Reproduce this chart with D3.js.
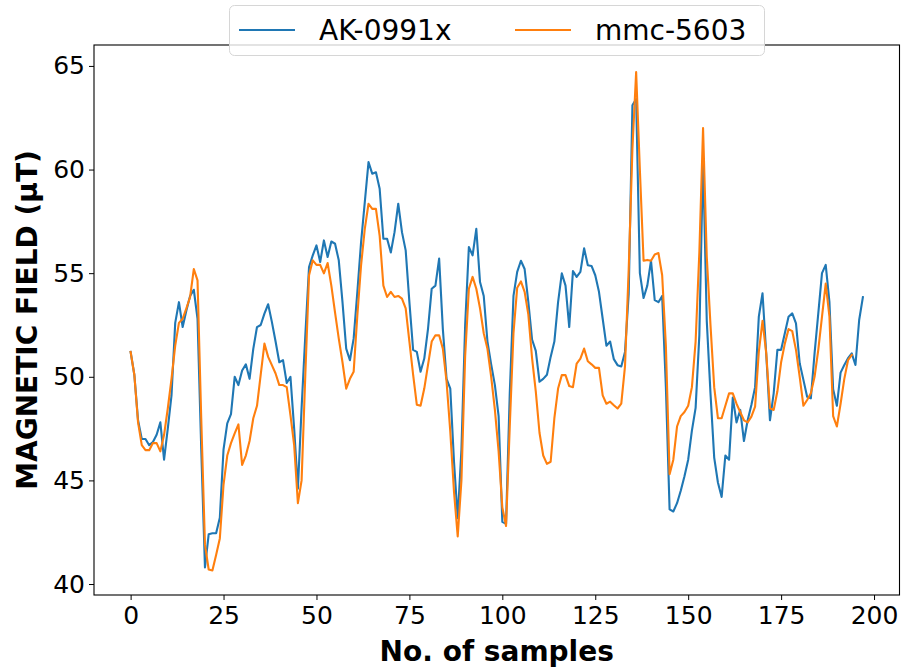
<!DOCTYPE html>
<html>
<head>
<meta charset="utf-8">
<script src="https://cdn.jsdelivr.net/npm/d3@7"></script>
<style>
  body { margin: 0; background: #ffffff; }
  svg { display: block; }
</style>
</head>
<body>
<svg id="chart" width="904" height="671"></svg>
<script>
const seriesNames = ["AK-0991x", "mmc-5603"];
const seriesColors = ["#1f77b4", "#ff7f0e"];

const ak0991x = [
  51.2, 50.1, 47.9, 47.0, 47.0, 46.7, 46.85, 47.2, 47.8, 46.0,
  47.5, 49.1, 52.6, 53.6, 52.4, 53.2, 53.9, 54.2, 52.8, 46.5,
  40.8, 42.4, 42.45, 42.45, 43.2, 46.5, 47.75, 48.2, 50.0, 49.6,
  50.3, 50.6, 49.9, 51.35, 52.4, 52.5, 53.05, 53.5, 52.65, 51.7,
  50.7, 50.8, 49.7, 50.0, 47.5, 44.6, 48.5, 52.0, 55.3, 55.86,
  56.34, 55.54, 56.58, 55.78, 56.53, 56.42, 55.62, 53.6, 51.36, 50.8,
  51.84, 54.1, 56.5, 58.43, 60.36, 59.8, 59.87, 59.07, 56.66, 56.66,
  56.0, 56.98, 58.35, 56.98, 56.1, 53.6, 51.3, 51.2, 50.24, 50.88,
  52.3, 54.25, 54.4, 55.7, 52.3, 49.9, 49.43, 45.9, 43.17, 46.5,
  52.5, 56.26, 55.86, 57.14, 54.57, 53.9, 51.7, 50.6, 49.6, 48.1,
  43.0, 42.9, 49.2, 53.9, 55.06, 55.6, 55.2, 53.6, 51.8, 51.25,
  49.76, 49.9, 50.1, 50.96, 51.7, 53.6, 54.99, 54.4, 52.4, 55.1,
  54.82, 55.06, 56.2, 55.38, 55.35, 54.9, 54.1, 52.8, 51.5, 51.7,
  50.85, 50.56, 50.5, 51.2, 54.0, 63.1, 63.4, 55.0, 53.8, 54.4,
  55.6, 53.7, 53.6, 53.9, 49.5, 43.6, 43.5, 43.9, 44.5, 45.2,
  46.0, 47.4, 48.5, 52.0, 60.5, 52.7, 49.2, 46.1, 44.9, 44.2,
  46.2, 46.0, 49.0, 47.8, 48.4, 46.9, 47.9, 48.64, 49.5, 52.9,
  54.03, 51.1, 47.9, 49.2, 51.3, 51.3, 52.1, 52.9, 53.06, 52.58,
  50.65, 49.85, 49.04, 48.96, 51.13, 53.06, 55.0, 55.4, 53.6, 49.4,
  48.6, 50.2, 50.57, 50.9, 51.13, 50.57, 52.74, 53.84
];

const mmc5603 = [
  51.2, 50.1, 47.8, 46.7, 46.46, 46.46, 46.8, 46.8, 46.4, 47.2,
  48.47, 49.9, 51.5, 52.6, 52.8, 53.3, 53.85, 55.2, 54.65, 48.0,
  41.9, 40.7, 40.65, 41.4, 42.2, 44.8, 46.2, 46.8, 47.27, 47.7,
  45.75, 46.2, 46.9, 48.0, 48.6, 50.1, 51.6, 50.96, 50.56, 50.16,
  49.6, 49.6, 49.5, 48.15, 46.7, 43.9, 45.0, 50.1, 54.9, 55.62,
  55.4, 55.4, 54.99, 55.49, 54.4, 53.1, 51.84, 50.7, 49.43, 49.9,
  50.24, 52.97, 55.38, 57.14, 58.35, 58.1, 58.1, 56.8, 54.4, 53.85,
  54.1, 53.85, 53.9, 53.77, 53.3, 51.7, 50.1, 48.65, 48.6, 49.43,
  50.56, 51.7, 52.0, 52.0, 51.36, 49.76, 47.35, 44.45, 42.3, 45.0,
  51.0, 54.25, 54.82, 54.25, 53.3, 52.1, 51.35, 50.0, 48.4, 46.4,
  43.7, 42.8, 47.6, 52.1, 54.3, 54.6, 54.1, 53.0, 50.9, 49.3,
  47.3, 46.2, 45.8, 45.9, 48.0, 49.43, 50.08, 50.08, 49.55, 49.5,
  50.64, 50.88, 51.36, 50.75, 50.6, 50.43, 50.43, 49.1, 48.7, 48.8,
  48.63, 48.47, 48.7, 50.5, 55.2, 61.0, 64.7, 60.0, 55.6, 55.64,
  55.6, 55.9, 55.97, 54.9, 51.5, 45.3, 46.0, 47.6, 48.1, 48.3,
  48.6, 49.5, 51.7, 56.0, 62.0, 55.8, 52.5, 49.5, 48.0, 48.0,
  48.6, 49.2, 49.2, 48.7, 48.3, 47.9, 47.8, 48.08, 48.56, 51.2,
  52.7, 51.13, 48.48, 48.4, 49.3, 50.7, 51.6, 52.3, 52.2, 51.3,
  50.0, 48.6, 48.88, 49.2, 50.0, 51.3, 52.9, 54.5, 52.9, 48.1,
  47.6, 48.7, 49.9, 50.8, 51.05
];

const xTickValues = [0, 25, 50, 75, 100, 125, 150, 175, 200];
const yTickValues = [40, 45, 50, 55, 60, 65];
const xLabel = "No. of samples";
const yLabel = "MAGNETIC FIELD (\u03bcT)";

const FONT = "'DejaVu Sans', sans-serif";
const plot = { left: 94, right: 899.5, top: 45, bottom: 595 };

const svg = d3.select("#chart");

const x = d3.scaleLinear().domain([-9.85, 206.85]).range([plot.left, plot.right]);
const y = d3.scaleLinear().domain([39.47, 66.01]).range([plot.bottom, plot.top]);

// Axes
const xAxis = d3.axisBottom(x).tickValues(xTickValues).tickSize(5).tickPadding(6).tickFormat(d3.format("d"));
const yAxis = d3.axisLeft(y).tickValues(yTickValues).tickSize(5).tickPadding(4).tickFormat(d3.format("d"));

const gx = svg.append("g").attr("transform", `translate(0,${plot.bottom})`).call(xAxis);
const gy = svg.append("g").attr("transform", `translate(${plot.left},0)`).call(yAxis);
[gx, gy].forEach(g => {
  g.select(".domain").remove();
  g.selectAll(".tick line").attr("stroke", "#000").attr("stroke-width", 1);
  g.selectAll(".tick text").attr("fill", "#000").style("font-family", FONT).style("font-size", "25px");
});

// Lines
const line = d3.line().x((d, i) => x(i)).y(d => y(d));
svg.append("clipPath").attr("id", "clip").append("rect")
  .attr("x", plot.left).attr("y", plot.top)
  .attr("width", plot.right - plot.left).attr("height", plot.bottom - plot.top);

[ak0991x, mmc5603].forEach((data, k) => {
  svg.append("path")
    .datum(data)
    .attr("clip-path", "url(#clip)")
    .attr("fill", "none")
    .attr("stroke", seriesColors[k])
    .attr("stroke-width", 2.1)
    .attr("stroke-linejoin", "round")
    .attr("stroke-linecap", "square")
    .attr("d", line);
});

// Frame
svg.append("rect")
  .attr("x", plot.left).attr("y", plot.top)
  .attr("width", plot.right - plot.left).attr("height", plot.bottom - plot.top)
  .attr("fill", "none").attr("stroke", "#000").attr("stroke-width", 1.1);

// Axis labels
svg.append("text")
  .attr("x", (plot.left + plot.right) / 2).attr("y", 661)
  .attr("text-anchor", "middle")
  .style("font-family", FONT).style("font-size", "28px").style("font-weight", "bold")
  .text(xLabel);

svg.append("text")
  .attr("transform", `translate(37,${(plot.top + plot.bottom) / 2}) rotate(-90)`)
  .attr("text-anchor", "middle")
  .style("font-family", FONT).style("font-size", "28px").style("font-weight", "bold")
  .text(yLabel);

// Legend
const legend = svg.append("g");
legend.append("rect")
  .attr("x", 229.5).attr("y", 5.5).attr("width", 535).attr("height", 50)
  .attr("rx", 5).attr("ry", 5)
  .attr("fill", "#fff").attr("fill-opacity", 0.8)
  .attr("stroke", "#d6d6d6").attr("stroke-width", 1);

const legendItems = [
  { name: seriesNames[0], color: seriesColors[0], x0: 239 },
  { name: seriesNames[1], color: seriesColors[1], x0: 515 }
];
legendItems.forEach(it => {
  legend.append("line")
    .attr("x1", it.x0).attr("x2", it.x0 + 56)
    .attr("y1", 30).attr("y2", 30)
    .attr("stroke", it.color).attr("stroke-width", 2.1);
  legend.append("text")
    .attr("x", it.x0 + 80).attr("y", 30)
    .attr("dominant-baseline", "central")
    .style("font-family", FONT).style("font-size", "28px")
    .attr("fill", "#000")
    .text(it.name);
});
</script>
</body>
</html>
